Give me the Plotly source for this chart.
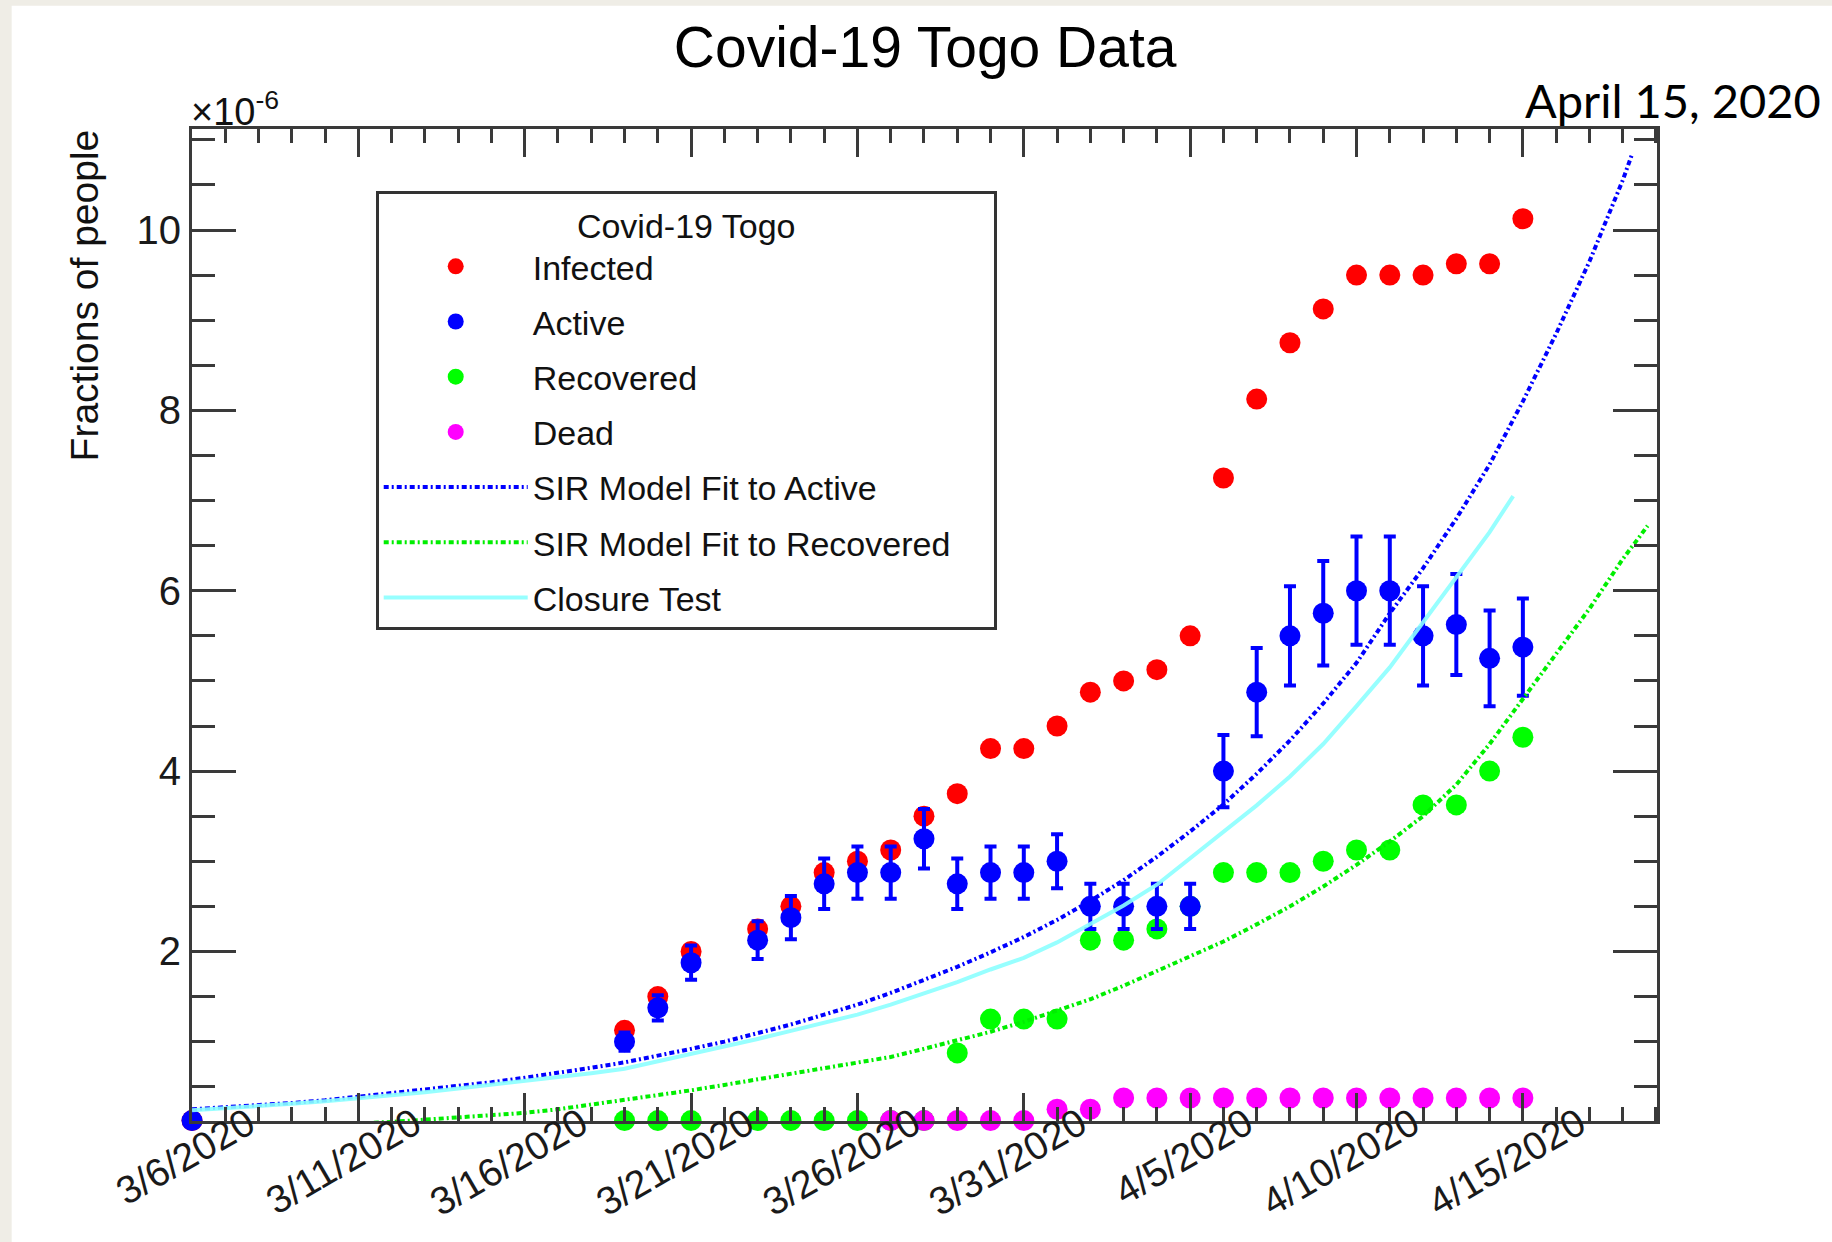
import plotly.graph_objects as go

# ---------------- data (fractions of people, in units of 1e-6) ----------------
dates_infected = ["2020-03-06", "2020-03-19", "2020-03-20", "2020-03-21", "2020-03-23", "2020-03-24",
                  "2020-03-25", "2020-03-26", "2020-03-27", "2020-03-28", "2020-03-29", "2020-03-30",
                  "2020-03-31", "2020-04-01", "2020-04-02", "2020-04-03", "2020-04-04", "2020-04-05",
                  "2020-04-06", "2020-04-07", "2020-04-08", "2020-04-09", "2020-04-10", "2020-04-11",
                  "2020-04-12", "2020-04-13", "2020-04-14", "2020-04-15"]
infected = [0.125, 1.125, 1.5, 2.0, 2.25, 2.5, 2.875, 3.0, 3.125, 3.5, 3.75, 4.25, 4.25, 4.5, 4.875,
            5.0, 5.125, 5.5, 7.25, 8.125, 8.75, 9.125, 9.5, 9.5, 9.5, 9.625, 9.625, 10.125]

dates_active = dates_infected
active = [0.125, 1.0, 1.375, 1.875, 2.125, 2.375, 2.75, 2.875, 2.875, 3.25, 2.75, 2.875, 2.875, 3.0,
          2.5, 2.5, 2.5, 2.5, 4.0, 4.875, 5.5, 5.75, 6.0, 6.0, 5.5, 5.625, 5.25, 5.375]
active_err = [0.012, 0.10, 0.14, 0.19, 0.21, 0.24, 0.28, 0.29, 0.29, 0.33, 0.28, 0.29, 0.29, 0.30,
              0.25, 0.25, 0.25, 0.25, 0.40, 0.49, 0.55, 0.58, 0.60, 0.60, 0.55, 0.56, 0.53, 0.54]

dates_recovered = ["2020-03-19", "2020-03-20", "2020-03-21", "2020-03-23", "2020-03-24", "2020-03-25",
                   "2020-03-26", "2020-03-27", "2020-03-28", "2020-03-29", "2020-03-30", "2020-03-31",
                   "2020-04-01", "2020-04-02", "2020-04-03", "2020-04-04", "2020-04-05", "2020-04-06",
                   "2020-04-07", "2020-04-08", "2020-04-09", "2020-04-10", "2020-04-11", "2020-04-12",
                   "2020-04-13", "2020-04-14", "2020-04-15"]
recovered = [0.125, 0.125, 0.125, 0.125, 0.125, 0.125, 0.125, 0.125, 0.125, 0.875, 1.25, 1.25, 1.25,
             2.125, 2.125, 2.25, 2.5, 2.875, 2.875, 2.875, 3.0, 3.125, 3.125, 3.625, 3.625, 4.0, 4.375]

dates_dead = ["2020-03-27", "2020-03-28", "2020-03-29", "2020-03-30", "2020-03-31", "2020-04-01",
              "2020-04-02", "2020-04-03", "2020-04-04", "2020-04-05", "2020-04-06", "2020-04-07",
              "2020-04-08", "2020-04-09", "2020-04-10", "2020-04-11", "2020-04-12", "2020-04-13",
              "2020-04-14", "2020-04-15"]
dead = [0.125, 0.125, 0.125, 0.125, 0.125, 0.25, 0.25, 0.375, 0.375, 0.375, 0.375, 0.375, 0.375,
        0.375, 0.375, 0.375, 0.375, 0.375, 0.375, 0.375]

# model curves, sampled once a day
fit_dates = ["2020-03-06", "2020-03-07", "2020-03-08", "2020-03-09", "2020-03-10", "2020-03-11",
             "2020-03-12", "2020-03-13", "2020-03-14", "2020-03-15", "2020-03-16", "2020-03-17",
             "2020-03-18", "2020-03-19", "2020-03-20", "2020-03-21", "2020-03-22", "2020-03-23",
             "2020-03-24", "2020-03-25", "2020-03-26", "2020-03-27", "2020-03-28", "2020-03-29",
             "2020-03-30", "2020-03-31", "2020-04-01", "2020-04-02", "2020-04-03", "2020-04-04",
             "2020-04-05", "2020-04-06", "2020-04-07", "2020-04-08", "2020-04-09", "2020-04-10",
             "2020-04-11", "2020-04-12", "2020-04-13", "2020-04-14", "2020-04-15", "2020-04-16",
             "2020-04-17", "2020-04-18"]
fit_active = [0.25, 0.27, 0.30, 0.32, 0.35, 0.39, 0.42, 0.46, 0.50, 0.55, 0.60, 0.65, 0.71, 0.77,
              0.84, 0.92, 1.00, 1.09, 1.19, 1.30, 1.41, 1.54, 1.68, 1.83, 1.99, 2.16, 2.35, 2.56,
              2.79, 3.05, 3.33, 3.63, 3.97, 4.34, 4.75, 5.20, 5.75, 6.25, 6.80, 7.40, 8.10, 8.85,
              9.65, 10.55]
fit_active_end = ("2020-04-18 07:00", 10.85)

fit_recovered = [0.02, 0.03, 0.045, 0.06, 0.075, 0.09, 0.11, 0.135, 0.16, 0.185, 0.21, 0.25, 0.30,
                 0.35, 0.40, 0.46, 0.52, 0.58, 0.64, 0.70, 0.76, 0.83, 0.92, 1.01, 1.11, 1.22, 1.34,
                 1.47, 1.62, 1.78, 1.94, 2.11, 2.30, 2.50, 2.72, 2.96, 3.22, 3.50, 3.85, 4.30, 4.80,
                 5.30, 5.80, 6.35]
fit_recovered_end = ("2020-04-18 18:00", 6.72)

closure_dates = fit_dates[:40]
closure = [0.24, 0.26, 0.29, 0.31, 0.34, 0.37, 0.40, 0.44, 0.48, 0.52, 0.56, 0.60, 0.65, 0.70, 0.78,
           0.86, 0.95, 1.03, 1.12, 1.21, 1.30, 1.41, 1.53, 1.66, 1.80, 1.93, 2.10, 2.30, 2.51, 2.74,
           3.03, 3.33, 3.62, 3.94, 4.30, 4.72, 5.15, 5.65, 6.15, 6.65]
closure_end = ("2020-04-14 17:00", 7.05)

x_range = ["2020-03-06", "2020-04-19 00:45"]
y_range = [0.12, 11.12]

FONT = "Liberation Sans, Arial, Helvetica, sans-serif"
AX = "#3a3a3a"
NB = "\u00a0"

fig = go.Figure()

fig.add_trace(go.Scatter(x=dates_infected, y=infected, mode="markers", name="Infected",
                         marker=dict(color="#FF0000", size=21), cliponaxis=False,
                         legendrank=1, legendgroup="a"))
fig.add_trace(go.Scatter(x=dates_recovered, y=recovered, mode="markers", name="Recovered",
                         marker=dict(color="#00FF00", size=21), cliponaxis=False,
                         legendrank=3, legendgroup="c"))
fig.add_trace(go.Scatter(x=dates_dead, y=dead, mode="markers", name="Dead",
                         marker=dict(color="#FF00FF", size=21), cliponaxis=False,
                         legendrank=4, legendgroup="d"))
fig.add_trace(go.Scatter(x=dates_active, y=active, mode="markers", name="Active",
                         marker=dict(color="#0000FF", size=21), cliponaxis=False,
                         error_y=dict(type="data", array=active_err, color="#0000FF",
                                      thickness=4, width=6),
                         legendrank=2, legendgroup="b"))
fig.add_trace(go.Scatter(x=fit_dates + [fit_active_end[0]], y=fit_active + [fit_active_end[1]],
                         mode="lines", name="SIR Model Fit to Active",
                         line=dict(color="#0000FF", width=4, dash="5px,3px,2px,3px"),
                         legendrank=5, legendgroup="e"))
fig.add_trace(go.Scatter(x=fit_dates + [fit_recovered_end[0]], y=fit_recovered + [fit_recovered_end[1]],
                         mode="lines", name="SIR Model Fit to Recovered" + NB * 4,
                         line=dict(color="#00EE00", width=4, dash="5px,3px,2px,3px"),
                         legendrank=6, legendgroup="f"))
fig.add_trace(go.Scatter(x=closure_dates + [closure_end[0]], y=closure + [closure_end[1]],
                         mode="lines", name="Closure Test", opacity=0.9,
                         line=dict(color="#8CFFFF", width=4),
                         legendrank=7, legendgroup="g"))

DAY = 86400000
fig.update_layout(
    width=1832, height=1242, autosize=False,
    margin=dict(l=192, r=175, t=129, b=121),
    paper_bgcolor="#EFEDE6", plot_bgcolor="white",
    font=dict(family=FONT, color="#111"),
    title=dict(text="Covid-19 Togo Data", x=0.505, xanchor="center", y=0.962, yanchor="middle",
               font=dict(size=57, color="#000", family=FONT)),
    showlegend=True,
    legend=dict(x=0.1254, y=0.938, xanchor="left", yanchor="top", bgcolor="white",
                bordercolor="#333", borderwidth=3, font=dict(size=34, family=FONT, color="#111"),
                title=dict(text="Covid-19 Togo", side="top center", font=dict(size=34, family=FONT)),
                traceorder="grouped", tracegroupgap=8, itemwidth=144),
    xaxis=dict(type="date", range=x_range, tick0="2020-03-06", dtick=5 * DAY,
               tickformat="%-m/%-d/%Y", tickangle=-30, ticks="inside", ticklen=28, tickwidth=2.5,
               tickcolor=AX, showline=True, linecolor=AX, linewidth=3, mirror="ticks",
               showgrid=False, zeroline=False, tickfont=dict(size=39, color="#1a1a1a"),
               ticklabelshift=56, ticklabelstandoff=-38, automargin=False,
               minor=dict(tick0="2020-03-06", dtick=DAY, ticks="inside", ticklen=14, tickwidth=2.5,
                          tickcolor=AX, showgrid=False)),
    yaxis=dict(range=y_range, tick0=0, dtick=2, ticks="inside", ticklen=44, tickwidth=2.5,
               tickcolor=AX, showline=True, linecolor=AX, linewidth=3, mirror="ticks",
               showgrid=False, zeroline=False, tickfont=dict(size=40, color="#1a1a1a"),
               automargin=False,
               minor=dict(tick0=0, dtick=0.5, ticks="inside", ticklen=23, tickwidth=2.5,
                          tickcolor=AX, showgrid=False)),
    shapes=[dict(type="rect", xref="paper", yref="paper", x0=-0.1231, x1=1.3, y0=-0.3, y1=1.1243,
                 fillcolor="white", line=dict(width=0), layer="below")],
    annotations=[
        dict(text="×10<sup>-6</sup>", xref="paper", yref="paper", x=-0.002, y=1.0, xanchor="left",
             yanchor="bottom", yshift=-6, showarrow=False, font=dict(size=38, color="#111", family=FONT)),
        dict(text="April 15, 2020", xref="paper", yref="paper", x=1.1134, y=1.0295, xanchor="right",
             yanchor="middle", showarrow=False, font=dict(size=47, color="#000", family="Lato")),
        dict(text="Fractions of people", xref="paper", yref="paper", x=-0.0732, y=0.832,
             xanchor="center", yanchor="middle", textangle=-90, showarrow=False,
             font=dict(size=39, color="#111", family=FONT)),
    ],
)

fig.write_html("out.html", config={"displayModeBar": False},
               post_script="document.body.style.margin='0';document.body.style.background='#EFEDE6';")
